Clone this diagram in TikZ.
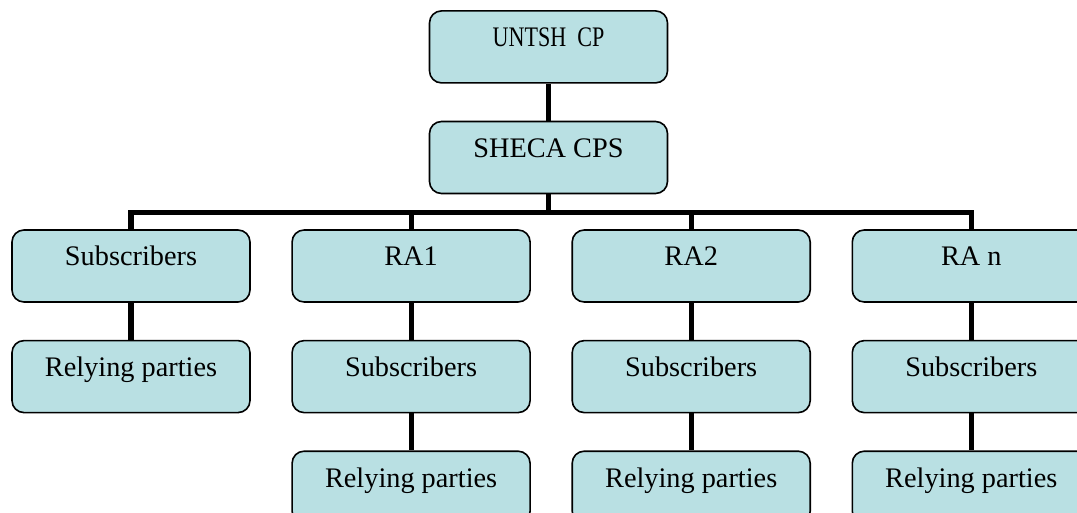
\documentclass[tikz,border=0pt]{standalone}
\usepackage{fontspec}
\setmainfont{Liberation Serif}
\usepackage{graphicx}
\usetikzlibrary{positioning}
\definecolor{boxfill}{RGB}{185,224,227}

\begin{document}
\begin{tikzpicture}[x=0.5pt,y=-0.5pt,
  node distance=18.5pt and 20.25pt,
  card/.style={draw=black, line width=0.8pt, fill=boxfill, rounded corners=6pt,
    minimum width=119pt, minimum height=36pt, inner sep=0pt,
    text height=18pt, text depth=18pt,
    font=\fontsize{14.15}{17}\selectfont},
  link/.style={line width=2.6pt, line join=miter}]
\clip (0,0) rectangle (1077,513);
\node [card] (sheca) at (548.5,157.5) {SHECA CPS};
\node [card, above=of sheca] (untsh) {\scalebox{0.78}[1]{UNTSH\ \ CP}};
\node [card] (sub0) at (131,266) {Subscribers};
\node [card, right=of sub0] (ra1) {RA1};
\node [card, right=of ra1] (ra2) {RA2};
\node [card, right=of ra2] (ran) {RA n};
\node [card, below=of sub0] (rel0) {Relying parties};
\node [card, below=of ra1] (sub1) {Subscribers};
\node [card, below=of ra2] (sub2) {Subscribers};
\node [card, below=of ran] (subn) {Subscribers};
\node [card, below=of sub1] (rel1) {Relying parties};
\node [card, below=of sub2] (rel2) {Relying parties};
\node [card, below=of subn] (reln) {Relying parties};
\coordinate (bus) at ([yshift=8.5pt]sub0.north);
\draw [link] (untsh.south) -- (sheca.north);
\draw [link] (sheca.south) -- (sheca |- bus);
\draw [link] (sub0.north) -- (bus) -- (bus -| ran.north) -- (ran.north);
\draw [link] (ra1.north) -- (ra1 |- bus);
\draw [link] (ra2.north) -- (ra2 |- bus);
\draw [link] (sub0.south) -- (rel0.north);
\draw [link] (ra1.south) -- (sub1.north);
\draw [link] (sub1.south) -- (rel1.north);
\draw [link] (ra2.south) -- (sub2.north);
\draw [link] (sub2.south) -- (rel2.north);
\draw [link] (ran.south) -- (subn.north);
\draw [link] (subn.south) -- (reln.north);
\end{tikzpicture}
\end{document}
